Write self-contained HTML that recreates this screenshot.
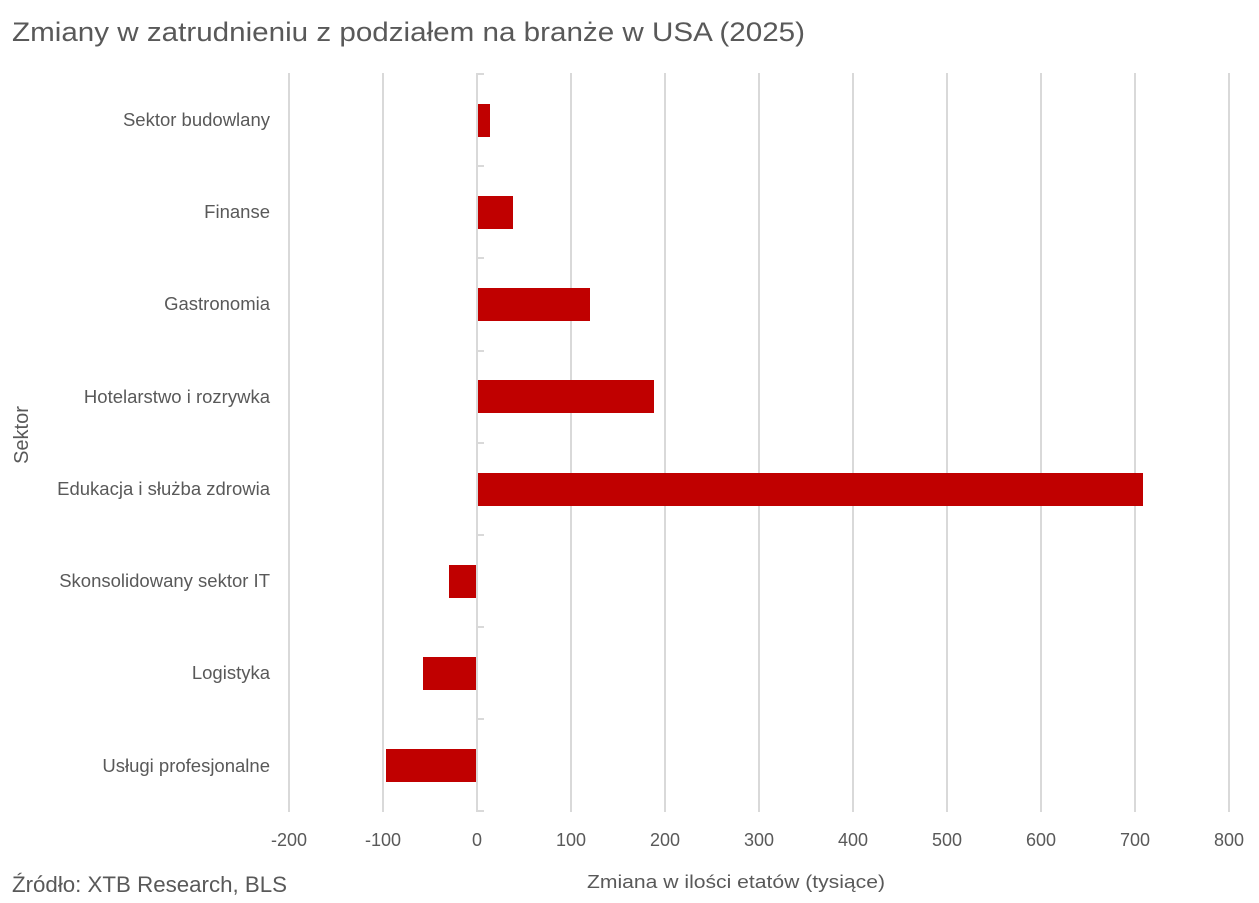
<!DOCTYPE html>
<html><head><meta charset="utf-8"><style>
html,body{margin:0;padding:0;background:#fff}
svg{display:block}
text{font-family:"Liberation Sans",sans-serif;fill:#595959}
</style></head><body>
<svg width="1259" height="903" viewBox="0 0 1259 903">
<text x="12" y="41" font-size="27" textLength="793" lengthAdjust="spacingAndGlyphs">Zmiany w zatrudnieniu z podziałem na branże w USA (2025)</text>
<g stroke="#d9d9d9" stroke-width="2">
<line x1="289" y1="73" x2="289" y2="812"/>
<line x1="383" y1="73" x2="383" y2="812"/>
<line x1="571" y1="73" x2="571" y2="812"/>
<line x1="665" y1="73" x2="665" y2="812"/>
<line x1="759" y1="73" x2="759" y2="812"/>
<line x1="853" y1="73" x2="853" y2="812"/>
<line x1="947" y1="73" x2="947" y2="812"/>
<line x1="1041" y1="73" x2="1041" y2="812"/>
<line x1="1135" y1="73" x2="1135" y2="812"/>
<line x1="1229" y1="73" x2="1229" y2="812"/>
<line x1="477" y1="73" x2="477" y2="812"/>
<line x1="477" y1="74" x2="484" y2="74"/>
<line x1="477" y1="166" x2="484" y2="166"/>
<line x1="477" y1="258" x2="484" y2="258"/>
<line x1="477" y1="351" x2="484" y2="351"/>
<line x1="477" y1="443" x2="484" y2="443"/>
<line x1="477" y1="535" x2="484" y2="535"/>
<line x1="477" y1="627" x2="484" y2="627"/>
<line x1="477" y1="719" x2="484" y2="719"/>
<line x1="477" y1="811" x2="484" y2="811"/>
</g>
<g fill="#c00000">
<rect x="478" y="104" width="12" height="33"/>
<rect x="478" y="196" width="35" height="33"/>
<rect x="478" y="288" width="112" height="33"/>
<rect x="478" y="380" width="176" height="33"/>
<rect x="478" y="473" width="665" height="33"/>
<rect x="449" y="565" width="27" height="33"/>
<rect x="423" y="657" width="53" height="33"/>
<rect x="386" y="749" width="90" height="33"/>
</g>
<g font-size="18.5" text-anchor="end">
<text x="270" y="126">Sektor budowlany</text>
<text x="270" y="218">Finanse</text>
<text x="270" y="310">Gastronomia</text>
<text x="270" y="403">Hotelarstwo i rozrywka</text>
<text x="270" y="495">Edukacja i służba zdrowia</text>
<text x="270" y="587">Skonsolidowany sektor IT</text>
<text x="270" y="679">Logistyka</text>
<text x="270" y="772">Usługi profesjonalne</text>
</g>
<g font-size="18" text-anchor="middle">
<text x="289" y="846">-200</text>
<text x="383" y="846">-100</text>
<text x="477" y="846">0</text>
<text x="571" y="846">100</text>
<text x="665" y="846">200</text>
<text x="759" y="846">300</text>
<text x="853" y="846">400</text>
<text x="947" y="846">500</text>
<text x="1041" y="846">600</text>
<text x="1135" y="846">700</text>
<text x="1229" y="846">800</text>
<text x="736" y="888" textLength="298" lengthAdjust="spacingAndGlyphs">Zmiana w ilości etatów (tysiące)</text>
<text transform="translate(28,435) rotate(-90)" font-size="20">Sektor</text>
</g>
<text x="12" y="892" font-size="22" textLength="275" lengthAdjust="spacingAndGlyphs">Źródło: XTB Research, BLS</text>
</svg>
</body></html>
